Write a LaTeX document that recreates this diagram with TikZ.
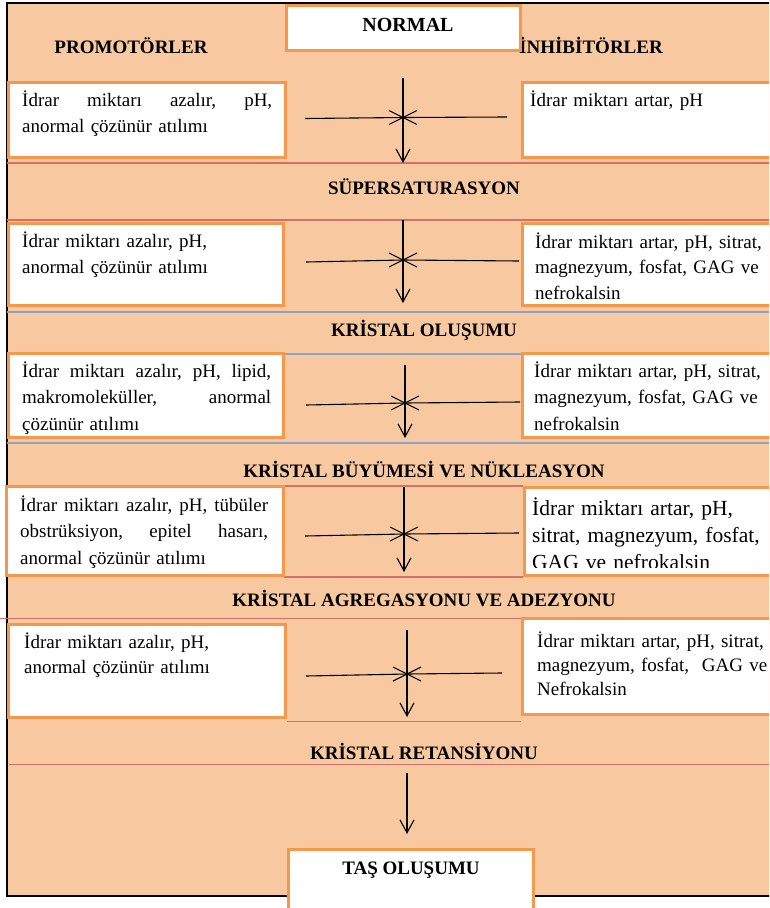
\documentclass[tikz,border=0pt]{standalone}
\usepackage{fontspec}
\setmainfont{Liberation Serif}
\usetikzlibrary{arrows.meta,calc}

\definecolor{peach}{RGB}{248,201,160}
\definecolor{boxorange}{RGB}{245,152,76}
\definecolor{rulered}{RGB}{214,112,102}
\definecolor{ruleblue}{RGB}{138,164,200}

% box given by its outer edges: name, left, top, right, bottom
\newcommand\factorbox[5]{%
  \node[factor, minimum width={#4-#2-3}, minimum height={#5-#3-3}]
    (#1) at ({(#2+#4)/2},{(#3+#5)/2}) {};}
% a line of text spread over a given width
\newcommand\spreadline[2]{\leavevmode\hbox to #1{#2}}
% one inhibition cross: name, x, top, arrow tip, left end, right end, y left, y right, y of the mark
\newcommand\inhibit[9]{%
  \coordinate (#1-top) at (#2,#3);
  \coordinate (#1-tip) at (#2,#4);
  \coordinate (#1-w) at (#5,#7);
  \coordinate (#1-e) at (#6,#8);
  \coordinate (#1-x) at (#2,#9);
  \draw[flow] (#1-top) -- (#1-tip);
  \draw[bar] (#1-w) -- (#1-x) -- (#1-e);
  \draw[bar] ($(#1-x)+(-14,-7)$) -- ($(#1-x)+(14,7)$);
  \draw[bar] ($(#1-x)+(-14,7)$) -- ($(#1-x)+(14,-7)$);}

\begin{document}
\begin{tikzpicture}[x=1pt,y=-1pt,
  factor/.style={rectangle, draw=boxorange, line width=3pt, fill=white, inner sep=0pt},
  body/.style={anchor=base west, inner sep=0pt, text width=262pt, align=left,
    font=\fontsize{19}{26.5}\selectfont},
  bigbody/.style={body, font=\fontsize{21.5}{27}\selectfont},
  head/.style={anchor=base, inner sep=0pt, font=\fontsize{19}{23}\selectfont\bfseries},
  redrule/.style={draw=rulered, line width=1.6pt},
  bluerule/.style={draw=ruleblue, line width=2pt},
  flow/.style={draw=black, line width=1.1pt, -{Straight Barb[length=13pt,width=14pt,line width=1.1pt]}},
  bar/.style={draw=black, line width=1.1pt},
]
\useasboundingbox (0,0) rectangle (769,908);
\clip (0,0) rectangle (769,908);

% background panel and its frame
\fill[peach] (7,3) rectangle (780,896);
\draw[line width=1.4pt] (780,3) -- (7,3) -- (7,896) -- (780,896);

% separating rules between the stages
\draw[redrule]  (7,163) -- (780,163);
\draw[redrule]  (7,220) -- (780,220);
\draw[bluerule] (7,312) -- (780,312);
\draw[bluerule] (285,353.5) -- (521,353.5);
\draw[bluerule] (7,443) -- (780,443);
\draw[redrule]  (284,486) -- (523,486);
\draw[redrule]  (284,577) -- (523,577);
\draw[redrule]  (0,618.5) -- (521,618.5);
\draw[redrule]  (287,721.5) -- (521,721.5);
\draw[redrule]  (9,764.5) -- (780,764.5);

% column and stage headings
\node[head] (prom) at (131,53) {PROMOTÖRLER};
\node[head, anchor=base west] (inhib) at (519,53) {İNHİBİTÖRLER};
\node[head] (st1) at (424,194) {SÜPERSATURASYON};
\node[head] (st2) at (424,336) {KRİSTAL OLUŞUMU};
\node[head] (st3) at (424,477) {KRİSTAL BÜYÜMESİ VE NÜKLEASYON};
\node[head] (st4) at (424,606) {KRİSTAL AGREGASYONU VE ADEZYONU};
\node[head] (st5) at (424,759) {KRİSTAL RETANSİYONU};

% start and end boxes
\factorbox{normal}{285}{4}{522}{52}
\node[head, font=\fontsize{20}{24}\selectfont\bfseries] (normaltxt) at (408,31) {NORMAL};
\factorbox{stone}{287}{848}{535}{918}
\node[head] (stonetxt) at (411,874) {TAŞ OLUŞUMU};

% promoter (left) and inhibitor (right) boxes
\factorbox{p1}{7}{81}{287}{159}
\factorbox{i1}{521}{81}{780}{159}
\factorbox{p2}{7}{222}{285}{307}
\factorbox{i2}{521}{222}{780}{307}
\factorbox{p3}{7}{352}{285}{439}
\factorbox{i3}{521}{352}{780}{439}
\factorbox{p4}{5}{485}{285}{577}
\factorbox{i4}{523}{486}{780}{577}
\factorbox{p5}{7}{623}{287}{719}
\factorbox{i5}{521}{617}{780}{716}

% box texts
\node[body] (p1t) at (22,106) {\spreadline{250pt}{İdrar\hfill miktarı\hfill azalır,\hfill pH,}\\anormal çözünür atılımı};
\node[body] (i1t) at (530,106) {İdrar miktarı artar, pH};

\node[body] (p2t) at (22,247) {İdrar miktarı azalır, pH,\\anormal çözünür atılımı};
\node[body, font=\fontsize{19}{25.5}\selectfont] (i2t) at (535,248) {İdrar miktarı artar, pH, sitrat,\\magnezyum, fosfat, GAG ve\\nefrokalsin};

\node[body] (p3t) at (22,377) {\spreadline{249pt}{İdrar\hfill miktarı\hfill azalır,\hfill pH,\hfill lipid,}\\\spreadline{249pt}{makromoleküller,\hfill anormal}\\çözünür atılımı};
\node[body] (i3t) at (534,377) {İdrar miktarı artar, pH, sitrat,\\magnezyum, fosfat, GAG ve\\nefrokalsin};

\node[body] (p4t) at (20,511) {\spreadline{248pt}{İdrar\hfill miktarı\hfill azalır,\hfill pH,\hfill tübüler}\\\spreadline{248pt}{obstrüksiyon,\hfill epitel\hfill hasarı,}\\anormal çözünür atılımı};
\begin{scope}
  % the last line is cut off by the lower edge of the text area
  \clip (525,488) rectangle (780,567);
  \node[bigbody] (i4t) at (532,515) {İdrar miktarı artar, pH,\\sitrat, magnezyum, fosfat,\\GAG ve nefrokalsin};
\end{scope}

\node[body, font=\fontsize{19}{25}\selectfont] (p5t) at (24,648) {İdrar miktarı azalır, pH,\\anormal çözünür atılımı};
\node[body, font=\fontsize{19}{24}\selectfont] (i5t) at (537,647) {İdrar miktarı artar, pH, sitrat,\\magnezyum, fosfat,\ \ GAG ve\\Nefrokalsin};

% flow arrows with the crossing inhibition marks
\inhibit{c1}{403}{78}{163}{305}{507}{118.5}{117}{117.5}
\inhibit{c2}{403}{220}{303}{306}{519}{262}{261}{260}
\inhibit{c3}{405}{365}{438}{306}{520}{405}{402}{403}
\inhibit{c4}{404}{487}{572}{305}{519}{536}{533}{534}
\inhibit{c5}{407}{630}{717}{306}{502}{676}{673}{674}

\coordinate (last-top) at (407,773);
\coordinate (last-tip) at (407,834);
\draw[flow] (last-top) -- (last-tip);
\end{tikzpicture}
\end{document}
